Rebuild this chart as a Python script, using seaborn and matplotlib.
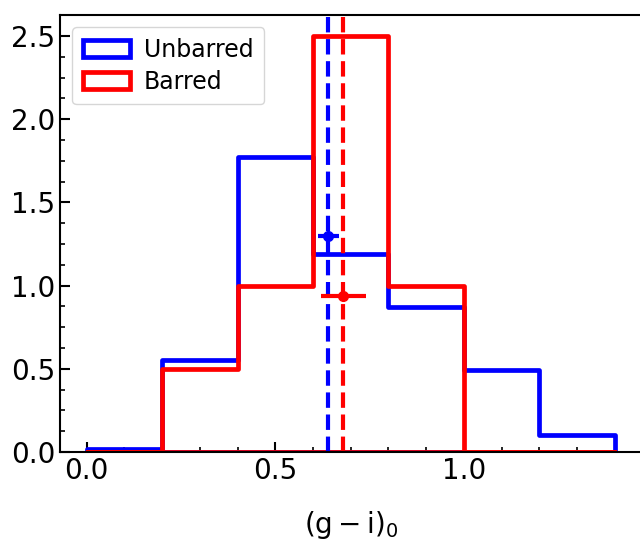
import numpy as np
import pandas as pd
import matplotlib
matplotlib.use('Agg')
import matplotlib.pyplot as plt
import seaborn as sns
from matplotlib.ticker import MultipleLocator

# bordes de los bins y densidades
bin_edges = [0.0, 0.2, 0.4, 0.6, 0.8, 1.0, 1.2, 1.4]
unbarred_density = [0.02, 0.55, 1.77, 1.19, 0.87, 0.49, 0.10]
barred_density = [0.0, 0.5, 1.0, 2.5, 1.0, 0.0, 0.0]

# medianas y su error
unbarred_median = 0.64
barred_median = 0.68
unbarred_point_y = 1.30
barred_point_y = 0.94
unbarred_err = 0.028
barred_err = 0.06

centers = [(a + b) / 2 for a, b in zip(bin_edges[:-1], bin_edges[1:])]
df_unb = pd.DataFrame({'x': centers, 'w': unbarred_density})
df_bar = pd.DataFrame({'x': centers, 'w': barred_density})

sns.set_style('white')
plt.rcParams['font.family'] = ['DejaVu Sans']
plt.rcParams['text.color'] = 'black'
plt.rcParams['axes.labelcolor'] = 'black'
plt.rcParams['xtick.color'] = 'black'
plt.rcParams['ytick.color'] = 'black'

fig = plt.figure(figsize=(6.4, 5.42), dpi=100)
ax = fig.add_axes([0.094, 0.166, 0.908, 0.806])

sns.histplot(data=df_unb, x='x', weights='w', bins=bin_edges, element='step',
             fill=True, color='blue', facecolor='none', edgecolor='blue',
             linewidth=3.4, label='Unbarred', ax=ax)
sns.histplot(data=df_bar, x='x', weights='w', bins=bin_edges, element='step',
             fill=True, color='red', facecolor='none', edgecolor='red',
             linewidth=3.4, label='Barred', ax=ax)

ax.axvline(unbarred_median, color='blue', ls='--', lw=3)
ax.axvline(barred_median, color='red', ls='--', lw=3)

ax.errorbar([unbarred_median], [unbarred_point_y], xerr=[unbarred_err], fmt='o',
            color='blue', ms=7, elinewidth=3, capsize=0)
ax.errorbar([barred_median], [barred_point_y], xerr=[barred_err], fmt='o',
            color='red', ms=7, elinewidth=3, capsize=0)

ax.set_xlim(-0.07, 1.47)
ax.set_ylim(0, 2.625)
ax.set_xlabel(r'$\mathrm{(g-i)_0}$', fontsize=20, labelpad=17)
ax.set_ylabel('')

ax.xaxis.set_major_locator(MultipleLocator(0.5))
ax.xaxis.set_minor_locator(MultipleLocator(0.1))
ax.yaxis.set_major_locator(MultipleLocator(0.5))
ax.yaxis.set_minor_locator(MultipleLocator(0.125))
ax.tick_params(which='both', direction='in', left=True, bottom=True)
ax.tick_params(which='major', length=7, width=1.5, labelsize=20)
ax.tick_params(which='minor', length=3.5, width=1.2)
for s in ax.spines.values():
    s.set_linewidth(1.5)
    s.set_color('black')

ax.legend(loc='upper left', fontsize=17, frameon=True, handlelength=2.0,
          borderpad=0.45, labelspacing=0.35, handletextpad=0.6)

fig.savefig('out.png', dpi=100)
